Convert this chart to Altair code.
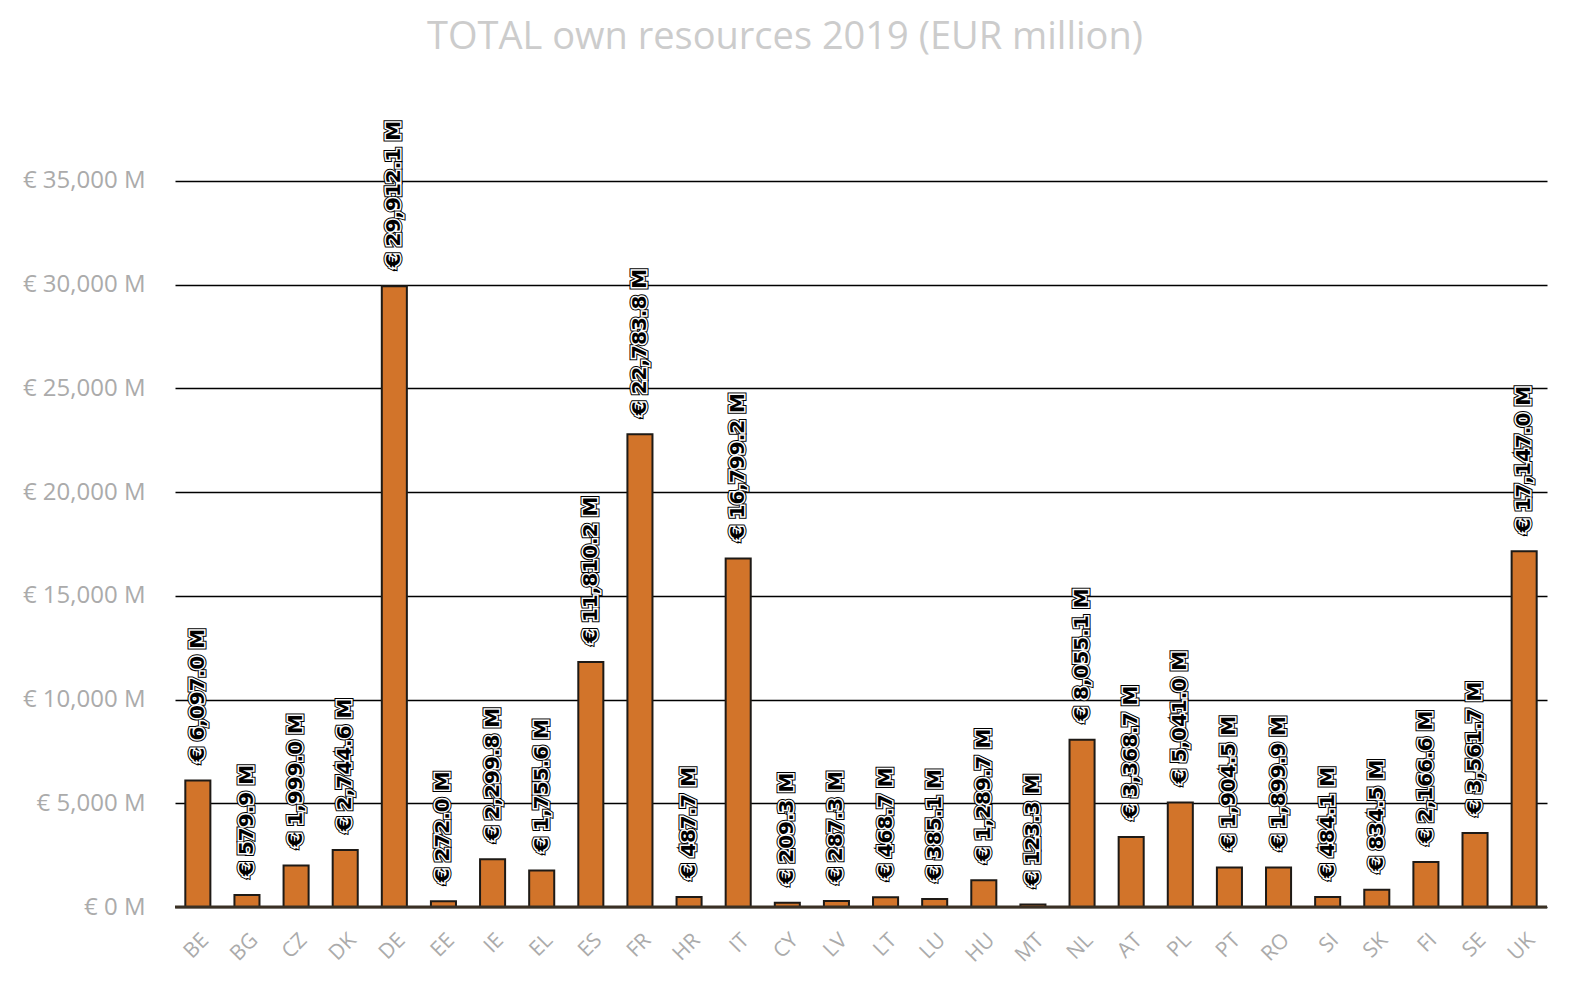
import altair as alt
import pandas as pd

countries = ["BE", "BG", "CZ", "DK", "DE", "EE", "IE", "EL", "ES", "FR", "HR", "IT", "CY", "LV",
             "LT", "LU", "HU", "MT", "NL", "AT", "PL", "PT", "RO", "SI", "SK", "FI", "SE", "UK"]
values = [6097.0, 579.9, 1999.0, 2744.6, 29912.1, 272.0, 2299.8, 1755.6, 11810.2, 22783.8, 487.7,
          16799.2, 209.3, 287.3, 468.7, 385.1, 1289.7, 123.3, 8055.1, 3368.7, 5041.0, 1904.5,
          1899.9, 484.1, 834.5, 2166.6, 3561.7, 17147.0]
y_ticks = [0, 5000, 10000, 15000, 20000, 25000, 30000, 35000]
title_text = ["TOTAL own resources 2019 (EUR million)"]

df = pd.DataFrame({"country": countries, "value": values})
yscale = alt.Scale(domain=[0, 40000], nice=False)

x_enc = alt.X("country:N", sort=countries, title=None,
              scale=alt.Scale(paddingInner=0.49, paddingOuter=0.21),
              axis=alt.Axis(labelAngle=-45, labelFont="Open Sans", labelFontSize=21,
                            labelColor="#ababab", labelPadding=22, ticks=False, domain=False))
y_enc = alt.Y("value:Q", title=None, scale=yscale,
              axis=alt.Axis(values=y_ticks, labelExpr="'€ ' + format(datum.value, ',') + ' M'",
                            labelFont="Open Sans", labelFontSize=24, labelColor="#ababab",
                            labelPadding=30, ticks=False, domain=False,
                            gridColor="#000000", gridWidth=1.6, gridOpacity=1))

base = alt.Chart(df)

bars = base.mark_bar(color="#D2742A", stroke="#1e1a16", strokeWidth=2).encode(x=x_enc, y=y_enc)

zero = alt.Chart(pd.DataFrame({"v": [0]})).mark_rule(color="#3a3024", strokeWidth=3).encode(
    y=alt.Y("v:Q", scale=yscale),
    x=alt.value(0), x2=alt.value(1372))

lab = base.transform_calculate(
    label="'€ ' + format(datum.value, ',.1f') + ' M'"
)
common = dict(angle=270, align="left", baseline="middle", dx=19,
              font="DejaVu Sans", fontWeight="bold", fontSize=20)
enc = dict(x=alt.X("country:N", sort=countries), y="value:Q", text="label:N")
t1 = lab.mark_text(stroke="#000000", strokeWidth=5, fill="#000000", **common).encode(**enc)
t2 = lab.mark_text(stroke="#ffffff", strokeWidth=3, fill="#ffffff", **common).encode(**enc)
t3 = lab.mark_text(fill="#000000", **common).encode(**enc)

title = alt.Chart(pd.DataFrame({"t": title_text})).mark_text(
    font="Open Sans", fontSize=38, color="#cccccc", align="center", baseline="alphabetic"
).encode(text="t:N", x=alt.value(610), y=alt.value(-28))

chart = alt.layer(bars, zero, t1, t2, t3, title).properties(
    width=1372, height=830,
    autosize=alt.AutoSizeParams(type="none"),
    padding={"left": 167, "top": 69, "right": 10, "bottom": 60},
).configure_view(stroke=None).configure_axisX(grid=False)

chart.save("out.html", embed_options={"renderer": "svg", "actions": False})
